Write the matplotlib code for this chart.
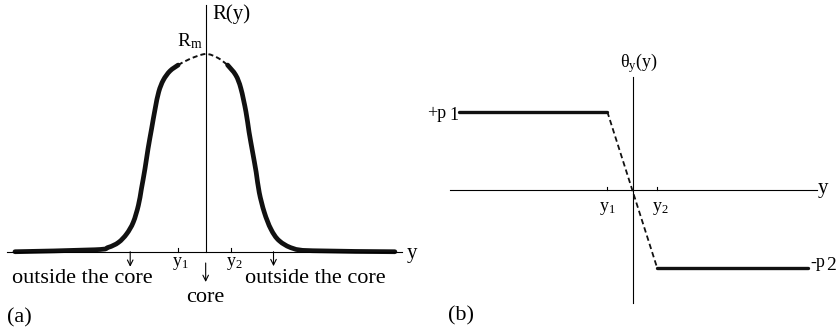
import matplotlib
matplotlib.use('Agg')
import matplotlib.pyplot as plt
from matplotlib.path import Path
from matplotlib.patches import PathPatch

plt.rcParams['font.family'] = ['Liberation Serif', 'DejaVu Serif']
plt.rcParams['mathtext.fontset'] = 'custom'
plt.rcParams['mathtext.rm'] = 'Liberation Serif'
plt.rcParams['mathtext.it'] = 'Liberation Serif'

# --- panel (a): R(y) profile, y in units of the half width, R normalised to R_m
left_y = [-3.74, -2.17, -1.91, -1.71, -1.55, -1.42, -1.32, -1.26, -1.19, -1.13,
          -1.06, -0.99, -0.92, -0.83, -0.70, -0.54]
left_r = [0.0, 0.01, 0.022, 0.047, 0.09, 0.149, 0.234, 0.318, 0.42, 0.521,
          0.623, 0.724, 0.809, 0.868, 0.914, 0.944]
core_y = [-0.54, -0.31, 0.0, 0.24, 0.43]
core_r = [0.944, 0.975, 1.0, 0.98, 0.944]
right_y = [0.43, 0.59, 0.69, 0.79, 0.85, 0.92, 0.99, 1.05, 1.15, 1.28, 1.44,
           1.71, 2.10, 3.71]
right_r = [0.944, 0.893, 0.826, 0.707, 0.606, 0.504, 0.402, 0.30, 0.199, 0.114,
           0.056, 0.017, 0.005, 0.0]
y1_a, y2_a = -0.54, 0.50

# --- panel (b): theta_y(y)
p1, p2 = 1.0, 1.0
y1_b, y2_b = -1.04, 0.96
y_left, y_right = -6.97, 7.0


def smooth_path(xs, ys):
    # catmull-rom through the read points, drawn as cubic bezier segments
    pts = list(zip(xs, ys))
    verts = [pts[0]]
    codes = [Path.MOVETO]
    n = len(pts)
    for i in range(n - 1):
        p0 = pts[i - 1] if i > 0 else pts[i]
        pa = pts[i]
        pb = pts[i + 1]
        p3 = pts[i + 2] if i + 2 < n else pts[i + 1]
        c1 = (pa[0] + (pb[0] - p0[0]) / 6, pa[1] + (pb[1] - p0[1]) / 6)
        c2 = (pb[0] - (p3[0] - pa[0]) / 6, pb[1] - (p3[1] - pa[1]) / 6)
        verts += [c1, c2, pb]
        codes += [Path.CURVE4] * 3
    return Path(verts, codes)


fig = plt.figure(figsize=(8.37, 3.33), dpi=100)

# panel (a)
ax = fig.add_axes([0, 0, 0.5, 1])
ax.set_xlim(-4.033, 4.173)
ax.set_ylim(-0.411, 1.273)
ax.axis('off')
ax.plot([-3.90, 3.84], [0, 0], color='black', lw=0.8)
ax.plot([0, 0], [0, 1.248], color='black', lw=0.8)
for t in (y1_a, y2_a):
    ax.plot([t, t], [0, 0.02], color='black', lw=0.8)
for xs, ys in ((left_y, left_r), (right_y, right_r)):
    ax.add_patch(PathPatch(smooth_path(xs, ys), fill=False, edgecolor='#111111',
                           lw=3.4, capstyle='round', joinstyle='round'))
ax.add_patch(PathPatch(smooth_path(core_y, core_r), fill=False, edgecolor='#111111',
                       lw=1.4, linestyle=(0, (2.6, 1.6))))

ax.text(0.50, 1.202, 'R(y)', fontsize=15, ha='center', va='center')
ax.text(-0.31, 1.066, r'$R_\mathrm{m}$', fontsize=14, ha='center', va='center')
ax.text(-0.50, -0.062, r'$y_1$', fontsize=13, ha='center', va='center')
ax.text(0.56, -0.062, r'$y_2$', fontsize=13, ha='center', va='center')
ax.text(4.04, -0.01, 'y', fontsize=15, ha='center', va='center')

arrow = dict(arrowstyle='->', color='black', lw=0.8, shrinkA=0, shrinkB=0,
             mutation_scale=10)
ax.annotate('', xy=(-1.48, -0.076), xytext=(-1.48, 0.0), arrowprops=arrow)
ax.annotate('', xy=(0.0, -0.153), xytext=(0.0, -0.057), arrowprops=arrow)
ax.annotate('', xy=(1.33, -0.073), xytext=(1.33, 0.0), arrowprops=arrow)

ax.text(-2.41, -0.160, 'outside the core', fontsize=16, ha='center', va='baseline')
ax.text(2.14, -0.160, 'outside the core', fontsize=16, ha='center', va='baseline')
ax.text(0.0, -0.254, 'core', fontsize=16, ha='center', va='baseline')
ax.text(-3.90, -0.356, '(a)', fontsize=16, ha='left', va='baseline')

# panel (b)
bx = fig.add_axes([0.5, 0, 0.5, 1])
bx.set_xlim(-8.592, 8.148)
bx.set_ylim(-1.826, 2.427)
bx.axis('off')
bx.plot([-7.33, 7.34], [0, 0], color='black', lw=0.8)
bx.plot([0, 0], [-1.447, 1.447], color='black', lw=0.8)
for t in (y1_b, y2_b):
    bx.plot([t, t], [0, 0.04], color='black', lw=0.8)
bx.plot([y_left, y1_b], [p1, p1], color='#111111', lw=2.4, solid_capstyle='round')
bx.plot([y2_b, y_right], [-p2, -p2], color='#111111', lw=2.4, solid_capstyle='round')
bx.plot([y1_b, y2_b], [p1, -p2], color='#111111', lw=1.3, dashes=(3.0, 1.8))

bx.text(-0.53, 1.571, r'$\theta_y$(y)', fontsize=13, ha='left', va='baseline')
bx.text(-8.25, 0.92, '+p', fontsize=13, ha='left', va='baseline')
bx.text(-7.37, 0.89, '1', fontsize=13, ha='left', va='baseline')
bx.text(7.1, -p2 + 0.02, '-p', fontsize=13, ha='left', va='baseline')
bx.text(7.73, -p2 - 0.02, '2', fontsize=14, ha='left', va='baseline')
bx.text(y1_b, -0.23, r'$y_1$', fontsize=13, ha='center', va='center')
bx.text(y2_b + 0.1, -0.23, r'$y_2$', fontsize=13, ha='center', va='center')
bx.text(7.6, 0.02, 'y', fontsize=15, ha='center', va='center')
bx.text(-7.4, -1.67, '(b)', fontsize=16, ha='left', va='baseline')

fig.savefig('out.png', dpi=100)
